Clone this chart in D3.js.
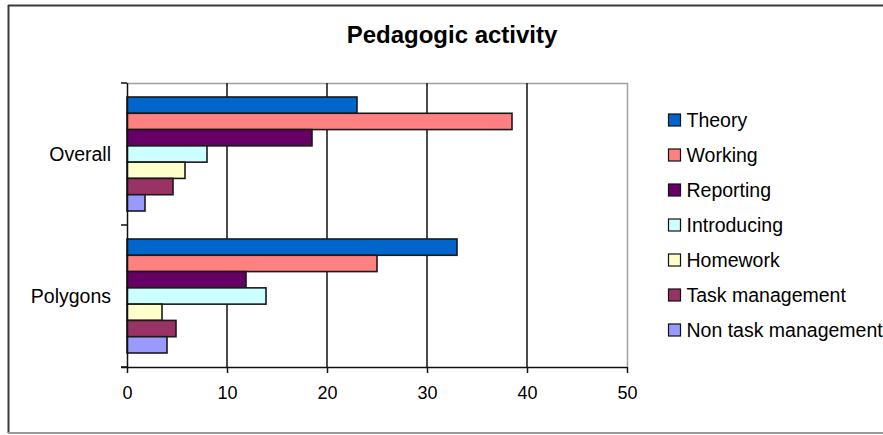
<!DOCTYPE html>
<html>
<head>
<meta charset="utf-8">
<script src="https://cdn.jsdelivr.net/npm/d3@7"></script>
<style>
  html, body { margin: 0; padding: 0; background: #fff; }
  svg { display: block; font-family: "Liberation Sans", Arial, sans-serif; }
</style>
</head>
<body>
<svg id="chart" width="883" height="435"></svg>
<script>
// Share of pedagogic activity per category
const categories = ["Overall", "Polygons"];
const seriesNames = ["Theory", "Working", "Reporting", "Introducing", "Homework", "Task management", "Non task management"];
const seriesColors = ["#0066CC", "#FF8080", "#660066", "#CCFFFF", "#FFFFCC", "#993366", "#9999FF"];
const overallValues = [23.0, 38.5, 18.5, 8.0, 5.8, 4.6, 1.8];
const polygonValues = [33.0, 25.0, 11.9, 13.9, 3.5, 4.9, 4.0];
const xTicks = [0, 10, 20, 30, 40, 50];

const valuesByCategory = { "Overall": overallValues, "Polygons": polygonValues };

const svg = d3.select("#chart");

// chart frame
svg.append("line").attr("x1", 8).attr("x2", 883).attr("y1", 5.5).attr("y2", 5.5)
  .attr("stroke", "#3a3a3a").attr("stroke-width", 2);
svg.append("line").attr("x1", 8.5).attr("x2", 8.5).attr("y1", 5).attr("y2", 433)
  .attr("stroke", "#3a3a3a").attr("stroke-width", 2);
svg.append("line").attr("x1", 8).attr("x2", 883).attr("y1", 433).attr("y2", 433)
  .attr("stroke", "#9a9a9a").attr("stroke-width", 2);

// title
svg.append("text")
  .attr("x", 452).attr("y", 43)
  .attr("text-anchor", "middle")
  .attr("font-size", 24).attr("font-weight", "bold")
  .attr("fill", "#000")
  .text("Pedagogic activity");

const plot = { left: 127, right: 627, top: 83, bottom: 367 };

const x = d3.scaleLinear().domain([0, 50]).range([plot.left, plot.right]);
const y0 = d3.scaleBand().domain(categories)
  .range([plot.top, plot.bottom])
  .paddingInner(28 / 142).paddingOuter(14 / 142);
const y1 = d3.scaleBand().domain(seriesNames).range([0, y0.bandwidth()]).padding(0);
const color = d3.scaleOrdinal().domain(seriesNames).range(seriesColors);

// plot area border (top and right)
svg.append("path")
  .attr("d", `M${plot.left},${plot.top + 0.5}H${plot.right + 0.5}V${plot.bottom}`)
  .attr("fill", "none").attr("stroke", "#a0a0a0").attr("stroke-width", 1.5);

// vertical gridlines
svg.append("g")
  .selectAll("line")
  .data(xTicks.filter(t => t > 0 && t < 50))
  .join("line")
  .attr("x1", d => x(d)).attr("x2", d => x(d))
  .attr("y1", plot.top).attr("y2", plot.bottom)
  .attr("stroke", "#111").attr("stroke-width", 1.5);

// bars
const groups = svg.append("g")
  .selectAll("g")
  .data(categories)
  .join("g")
  .attr("transform", d => `translate(0,${y0(d)})`);

groups.selectAll("rect")
  .data(c => seriesNames.map((s, i) => ({ series: s, value: valuesByCategory[c][i] })))
  .join("rect")
  .attr("x", x(0))
  .attr("y", d => y1(d.series))
  .attr("width", d => x(d.value) - x(0))
  .attr("height", y1.bandwidth())
  .attr("fill", d => color(d.series))
  .attr("stroke", "#1a1a1a").attr("stroke-width", 1.6);

// x axis
const xAxis = d3.axisBottom(x).tickValues(xTicks).tickSize(6).tickPadding(13).tickFormat(d3.format("d"));
const gx = svg.append("g").attr("transform", `translate(0,${plot.bottom})`).call(xAxis);
gx.select(".domain").attr("d", `M${plot.left - 6},0.5H${plot.right}`).attr("stroke", "#111").attr("stroke-width", 1.5);
gx.selectAll(".tick line").attr("stroke", "#111").attr("stroke-width", 1.5);
gx.selectAll(".tick text").attr("font-size", 18).attr("fill", "#000")
  .attr("font-family", "Liberation Sans, Arial, sans-serif");

// y axis: boundary ticks between categories, labels at centres
const boundaries = [plot.top, (plot.top + plot.bottom) / 2, plot.bottom];
svg.append("line").attr("x1", plot.left + 0.5).attr("x2", plot.left + 0.5)
  .attr("y1", plot.top).attr("y2", plot.bottom)
  .attr("stroke", "#111").attr("stroke-width", 1.5);
svg.append("g").selectAll("line").data(boundaries).join("line")
  .attr("x1", plot.left - 6).attr("x2", plot.left)
  .attr("y1", d => d).attr("y2", d => d)
  .attr("stroke", "#111").attr("stroke-width", 1.5);
svg.append("g").selectAll("text").data(categories).join("text")
  .attr("x", 111)
  .attr("y", d => y0(d) - y0.step() * y0.paddingInner() / 2 + y0.step() / 2 + 7)
  .attr("text-anchor", "end")
  .attr("font-size", 19.5).attr("fill", "#000")
  .text(d => d);

// legend
const legend = svg.append("g").attr("transform", "translate(668,120)");
const item = legend.selectAll("g").data(seriesNames).join("g")
  .attr("transform", (d, i) => `translate(0,${i * 35})`);
item.append("rect")
  .attr("x", 0.5).attr("y", -6).attr("width", 12).attr("height", 12)
  .attr("fill", d => color(d)).attr("stroke", "#111").attr("stroke-width", 1.2);
item.append("text")
  .attr("x", 18.5).attr("y", 7)
  .attr("font-size", 19.5).attr("fill", "#000")
  .text(d => d);
</script>
</body>
</html>
